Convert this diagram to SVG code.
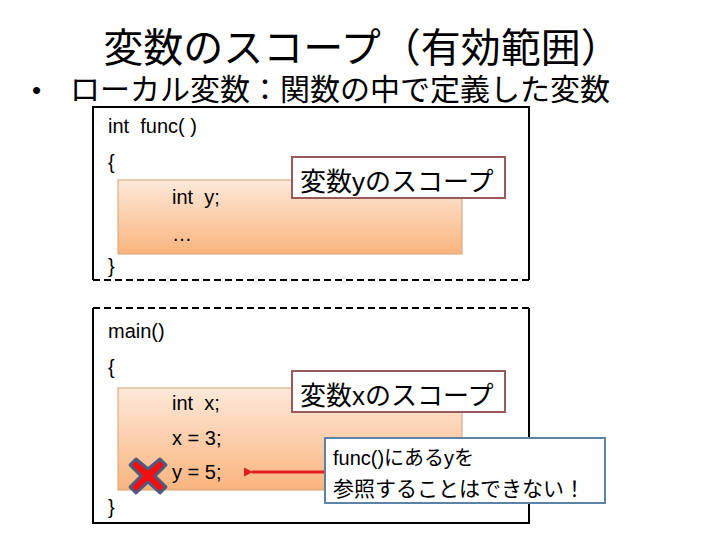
<svg xmlns="http://www.w3.org/2000/svg" width="720" height="540" viewBox="0 0 720 540">
<defs>
<linearGradient id="og" x1="0" y1="0" x2="0" y2="1">
<stop offset="0" stop-color="#FDE9DA"/>
<stop offset="1" stop-color="#FAB47E"/>
</linearGradient>
<marker id="ah" markerWidth="9" markerHeight="9" refX="1" refY="4.5" orient="auto" markerUnits="userSpaceOnUse">
<path d="M9,0 L0,4.5 L9,9 Z" fill="#E41E1E"/>
</marker>
</defs>
<style>
.jp{font-family:"Liberation Sans","Noto Sans CJK JP",sans-serif;fill:#000}
.code{font-family:"Liberation Sans","Noto Sans CJK JP",sans-serif;font-size:20px;fill:#000;white-space:pre}
.scope{fill:url(#og);stroke:#D9A070;stroke-width:1}
.lbl{fill:#fff;stroke:#9B5A5A;stroke-width:2}
.frame{fill:none;stroke:#000;stroke-width:2}
.dash{fill:none;stroke:#000;stroke-width:2;stroke-dasharray:7,4}
</style>
<rect width="720" height="540" fill="#fff"/>
<text class="jp" x="362" y="62" font-size="40" text-anchor="middle">変数のスコープ（有効範囲）</text>
<text class="jp" x="32" y="99" font-size="26">•</text>
<text class="jp" x="70" y="100" font-size="30">ローカル変数：関数の中で定義した変数</text>

<g id="func">
<path class="frame" d="M93,280 V107 H529 V280"/>
<path class="dash" d="M93,280 H529"/>
<rect class="scope" x="118" y="180" width="344" height="74"/>
<text class="code" x="108" y="133">int  func( )</text>
<text class="code" x="108" y="169">{</text>
<text class="code" x="172" y="204">int  y;</text>
<text class="code" x="172" y="241">…</text>
<text class="code" x="108" y="273">}</text>
</g>
<g id="label-y">
<rect class="lbl" x="292" y="157" width="213" height="41"/>
<text class="jp" x="300" y="191" font-size="26">変数yのスコープ</text>
</g>

<g id="main">
<path class="frame" d="M93,308 V523 H529 V308"/>
<path class="dash" d="M93,308 H529"/>
<rect class="scope" x="118" y="388" width="344" height="102"/>
<text class="code" x="108" y="338">main()</text>
<text class="code" x="108" y="374">{</text>
<text class="code" x="172" y="410">int  x;</text>
<text class="code" x="172" y="445">x = 3;</text>
<text class="code" x="172" y="479">y = 5;</text>
<text class="code" x="108" y="514">}</text>
</g>
<g id="label-x">
<rect class="lbl" x="292" y="371" width="213" height="41"/>
<text class="jp" x="300" y="405" font-size="26">変数xのスコープ</text>
</g>

<g id="cross">
<path d="M136,459 L148,469 L160,459 L166,465 L155,476 L166,487 L160,493 L148,482 L136,493 L130,487 L141,476 L130,465 Z" fill="#F01010" stroke="#4E5A7E" stroke-width="3" stroke-linejoin="round"/>
</g>

<g id="connectors">
<line x1="326" y1="472" x2="252" y2="472" stroke="#E41E1E" stroke-width="3" marker-end="url(#ah)"/>
</g>

<g id="note">
<rect x="325" y="438" width="280" height="65" fill="#fff" stroke="#5C82A8" stroke-width="2"/>
<text class="jp" x="333" y="465" font-size="20">func()にあるyを</text>
<text class="jp" x="333" y="496" font-size="21">参照することはできない！</text>
</g>
</svg>
